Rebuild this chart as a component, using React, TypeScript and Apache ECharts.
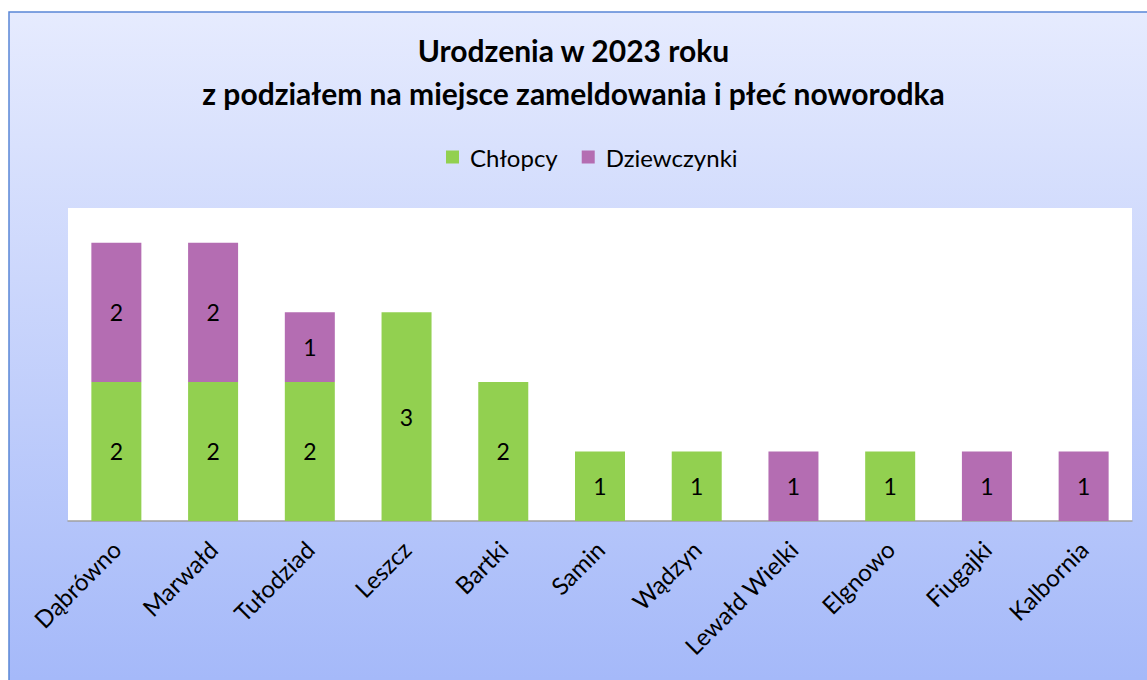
import React, { useEffect, useRef } from "react";
import * as echarts from "echarts";

const categories = ["Dąbrówno", "Marwałd", "Tułodziad", "Leszcz", "Bartki", "Samin", "Wądzyn", "Lewałd Wielki", "Elgnowo", "Fiugajki", "Kalbornia"];
const boys = [2, 2, 2, 3, 2, 1, 1, null, 1, null, null];
const girls = [2, 2, 1, null, null, null, null, 1, null, 1, 1];
const titleLines = ["Urodzenia w 2023 roku", "z podziałem na miejsce zameldowania i płeć noworodka"];

const FONT = "Lato, 'Open Sans', sans-serif";

export default function App() {
  const ref = useRef<HTMLDivElement>(null);
  useEffect(() => {
    const chart = echarts.init(ref.current!, null, { renderer: "svg" });
    const label = {
      show: true,
      position: "inside",
      color: "#000",
      fontSize: 23,
      fontFamily: FONT,
    };
    chart.setOption({
      animation: false,
      backgroundColor: "#ffffff",
      title: {
        text: titleLines.join("\n"),
        left: "center",
        top: 23,
        textStyle: { fontSize: 30, fontWeight: "bold", fontFamily: FONT, color: "#000", lineHeight: 43 },
      },
      legend: {
        top: 140,
        left: 441,
        itemWidth: 13,
        itemHeight: 13,
        itemGap: 24,
        icon: "rect",
        textStyle: { fontSize: 24, fontFamily: FONT, color: "#000", padding: [0, 0, 0, 6] },
        data: ["Chłopcy", "Dziewczynki"],
      },
      graphic: [
        {
          type: "rect",
          z: -10,
          silent: true,
          shape: { x: 9, y: 12, width: 1200, height: 800 },
          style: {
            fill: new echarts.graphic.LinearGradient(0, 0, 0, 1, [
              { offset: 0, color: "#e6ebfe" },
              { offset: 1, color: "#98aff8" },
            ]),
            stroke: "#5a86d6",
            lineWidth: 1.5,
          },
        },
      ],
      grid: {
        left: 68,
        right: 15,
        top: 208,
        bottom: 159,
        show: true,
        backgroundColor: "#ffffff",
        borderWidth: 0,
        containLabel: false,
      },
      xAxis: {
        type: "category",
        data: categories,
        axisLine: { show: true, lineStyle: { color: "#a0a0a0", width: 1.5 } },
        axisTick: { show: false },
        axisLabel: {
          rotate: 45,
          interval: 0,
          color: "#000",
          fontSize: 24,
          fontFamily: FONT,
          margin: 24,
        },
      },
      yAxis: {
        type: "value",
        min: 0,
        max: 4.5,
        show: false,
        splitLine: { show: false },
      },
      series: [
        {
          name: "Chłopcy",
          type: "bar",
          stack: "a",
          data: boys,
          barWidth: 50,
          itemStyle: { color: "#92d050" },
          label,
        },
        {
          name: "Dziewczynki",
          type: "bar",
          stack: "a",
          data: girls,
          barWidth: 50,
          itemStyle: { color: "#b46db2" },
          label,
        },
      ],
    });
    return () => chart.dispose();
  }, []);
  return <div ref={ref} style={{ position: "fixed", left: 0, top: 0, width: 1147, height: 680 }} />;
}
